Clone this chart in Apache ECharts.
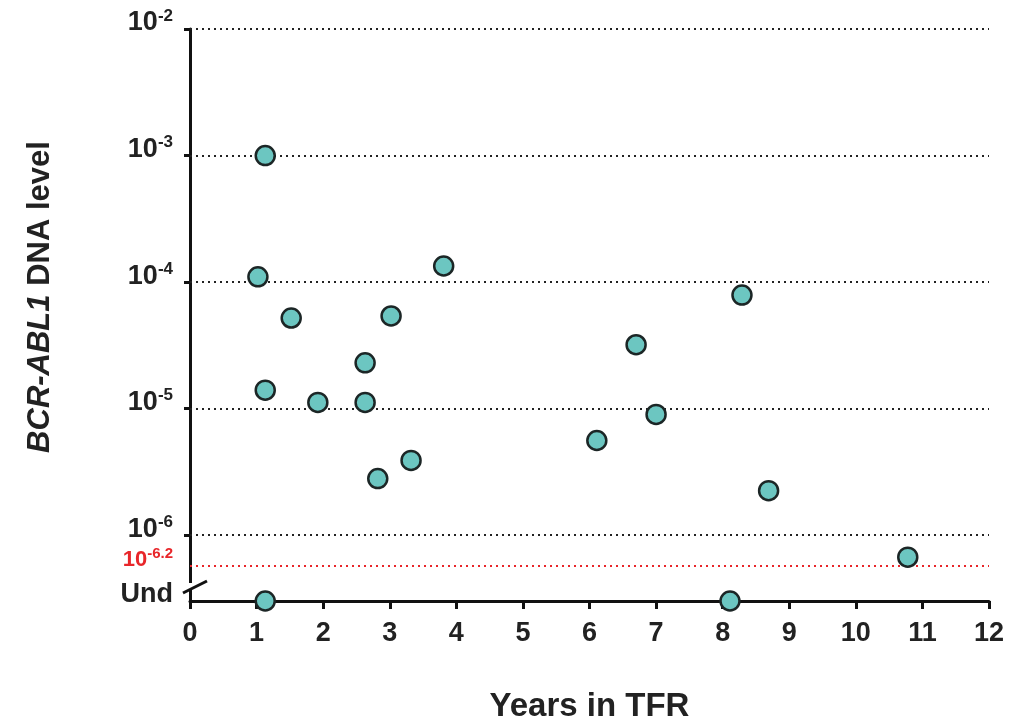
<!DOCTYPE html>
<html>
<head>
<meta charset="utf-8">
<script src="https://cdn.jsdelivr.net/npm/echarts@6/dist/echarts.min.js"></script>
<style>
    html, body { margin: 0; padding: 0; background: #fff; }
    #chart { width: 1033px; height: 721px; }
</style>
</head>
<body>
<div id="chart"></div>
<script>
// 数据
const years = [1.13, 1.02, 1.52, 1.13, 1.92, 2.63, 2.63, 2.82, 3.02, 3.32, 3.81, 6.11, 6.70, 7.00, 8.29, 8.69, 10.78, 1.13, 8.11]
const levels = [1e-3, 1.1e-4, 5.2e-5, 1.4e-5, 1.12e-5, 2.3e-5, 1.12e-5, 2.8e-6, 5.4e-5, 3.9e-6, 1.34e-4, 5.6e-6, 3.2e-5, 9.0e-6, 7.9e-5, 2.25e-6, 6.7e-7, 'Und', 'Und']
const xTicks = [0, 1, 2, 3, 4, 5, 6, 7, 8, 9, 10, 11, 12]
const decades = [-2, -3, -4, -5, -6]
// 检测限 与 Und 位置(指数)
const LIMIT = -6.24
const UND = -6.52

const toExp = v => (v === 'Und' ? UND : Math.log10(v))
const points = years.map((x, i) => [x, toExp(levels[i])])

const chart = echarts.init(document.getElementById('chart'))
const font = 'Liberation Sans, Arial, sans-serif'
const near = (a, b) => Math.abs(a - b) < 1e-6

const option = {
    animation: false,
    grid: { left: 190, right: 44, top: 29, bottom: 120, outerBoundsMode: 'none', containLabel: false },
    xAxis: {
        type: 'value',
        min: 0,
        max: 12,
        interval: 1,
        name: 'Years in TFR',
        nameLocation: 'middle',
        nameGap: 89,
        nameTextStyle: { fontFamily: font, fontWeight: 'bold', fontSize: 33, color: '#222' },
        axisLine: { lineStyle: { color: '#111', width: 3 } },
        axisTick: { length: 8, lineStyle: { color: '#111', width: 3 } },
        axisLabel: {
            fontFamily: font, fontWeight: 'bold', fontSize: 27, color: '#222', margin: 19,
            formatter: v => (xTicks.includes(v) ? String(v) : '')
        },
        splitLine: { show: false }
    },
    yAxis: {
        type: 'value',
        min: UND,
        max: -2,
        name: '{i|BCR-ABL1} DNA level',
        nameLocation: 'middle',
        nameGap: 134,
        nameTextStyle: {
            fontFamily: font, fontWeight: 'bold', fontSize: 31, color: '#222',
            padding: [0, 0, 0, 36],
            rich: { i: { fontFamily: font, fontWeight: 'bold', fontStyle: 'italic', fontSize: 31, color: '#222' } }
        },
        axisLine: { lineStyle: { color: '#111', width: 3 } },
        axisTick: { length: 6, lineStyle: { color: '#111', width: 3 }, customValues: decades },
        axisLabel: {
            customValues: [UND, LIMIT].concat(decades),
            margin: 17,
            padding: [0, 0, 12, 0],
            formatter: v => {
                if (near(v, UND)) return '{u|Und}'
                if (near(v, LIMIT)) return '{r|10}{rs|-6.2}'
                return '{b|10}{s|' + Math.round(v) + '}'
            },
            rich: {
                u: { fontFamily: font, fontWeight: 'bold', fontSize: 27, color: '#222' },
                b: { fontFamily: font, fontWeight: 'bold', fontSize: 27, color: '#222' },
                s: { fontFamily: font, fontWeight: 'bold', fontSize: 17, color: '#222', padding: [0, 0, 14, 0] },
                r: { fontFamily: font, fontWeight: 'bold', fontSize: 22, color: '#e8262a' },
                rs: { fontFamily: font, fontWeight: 'bold', fontSize: 15, color: '#e8262a', padding: [0, 0, 11, 0] }
            }
        },
        splitLine: { show: false }
    },
    series: [
        {
            type: 'scatter',
            data: points,
            symbol: 'circle',
            symbolSize: 19,
            z: 5,
            itemStyle: { color: '#6cc6c1', borderColor: '#1c2626', borderWidth: 2.5, opacity: 1 },
            markLine: {
                silent: true,
                symbol: 'none',
                label: { show: false },
                z: 1,
                data: decades.map(d => ({ yAxis: d, lineStyle: { color: '#222', type: [2, 4], width: 2 } }))
                    .concat([{ yAxis: LIMIT, lineStyle: { color: '#e8262a', type: [2, 4], width: 2 } }])
            }
        }
    ]
}
chart.setOption(option)

// 坐标轴断裂标记
const x0 = chart.convertToPixel({ xAxisIndex: 0 }, 0)
const yU = chart.convertToPixel({ yAxisIndex: 0 }, UND)
chart.setOption({
    graphic: [
        { type: 'rect', shape: { x: x0 - 3, y: yU - 18, width: 6, height: 7 }, style: { fill: '#fff' }, z: 100 },
        { type: 'line', shape: { x1: x0 - 7, y1: yU - 8, x2: x0 + 17, y2: yU - 20 }, style: { stroke: '#111', lineWidth: 3 }, z: 101 }
    ]
})

window.addEventListener('resize', () => {
    chart.resize()
})
</script>
</body>
</html>
